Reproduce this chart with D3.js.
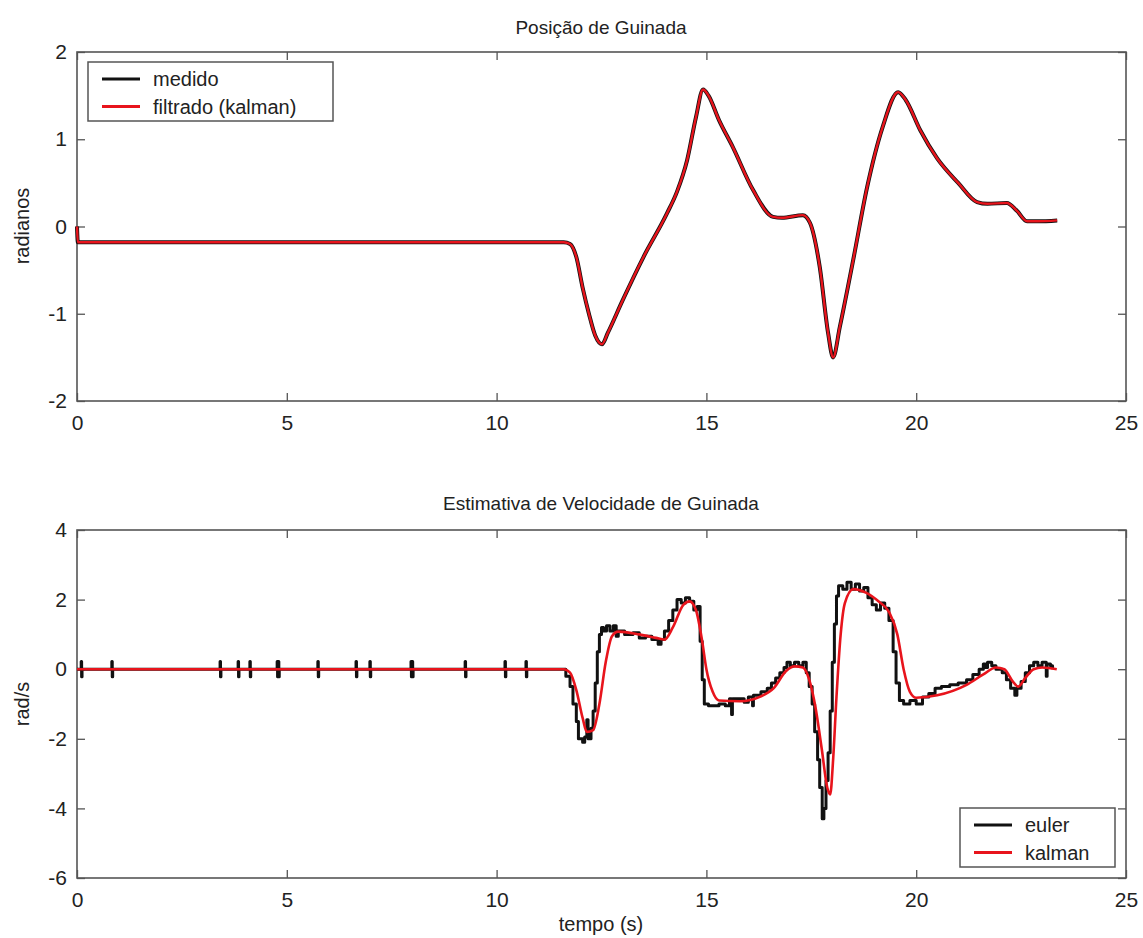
<!DOCTYPE html>
<html>
<head>
<meta charset="utf-8">
<script src="https://cdn.jsdelivr.net/npm/d3@7"></script>
<style>
  body { margin: 0; background: #fff; }
  svg text { font-family: "Liberation Sans", Arial, Helvetica, sans-serif; fill: #222; }
  .axis path { display: none; }
  .axis line { stroke: #555; stroke-width: 1.3; }
  .axis text { font-size: 21px; fill: #222; }
</style>
</head>
<body>
<svg width="1143" height="938"></svg>
<script>
// posição de guinada (rad) - medido / filtrado
const posTime = [0, 0.02, 11.6, 11.75, 11.9, 12.05, 12.2, 12.35, 12.51, 12.65, 13.0, 13.5, 14.06, 14.3, 14.54, 14.75, 14.92, 15.05, 15.3, 15.63, 16.11, 16.59, 16.8, 17.3, 17.47, 17.7, 17.9, 18.02, 18.18, 18.5, 18.83, 19.2, 19.57, 19.75, 20.1, 20.5, 21.0, 21.45, 21.7, 22.16, 22.4, 22.64, 22.9, 23.36];
const medido   = [0, -0.18, -0.18, -0.2, -0.35, -0.7, -1.0, -1.25, -1.35, -1.22, -0.85, -0.35, 0.15, 0.4, 0.76, 1.25, 1.57, 1.5, 1.22, 0.91, 0.42, 0.11, 0.1, 0.13, 0.04, -0.46, -1.22, -1.5, -1.15, -0.38, 0.45, 1.14, 1.54, 1.45, 1.1, 0.78, 0.5, 0.28, 0.26, 0.27, 0.18, 0.06, 0.06, 0.07];
const filtrado = [0, -0.18, -0.18, -0.2, -0.35, -0.7, -1.0, -1.25, -1.35, -1.22, -0.85, -0.35, 0.15, 0.4, 0.76, 1.25, 1.57, 1.5, 1.22, 0.91, 0.42, 0.11, 0.1, 0.13, 0.04, -0.46, -1.22, -1.5, -1.15, -0.38, 0.45, 1.14, 1.54, 1.45, 1.1, 0.78, 0.5, 0.28, 0.26, 0.27, 0.18, 0.06, 0.06, 0.07];

// velocidade de guinada (rad/s) - euler (degraus)
const eulerT = [0, 0.1, 0.11, 0.12, 0.83, 0.84, 0.85, 3.41, 3.42, 3.43, 3.84, 3.85, 3.86, 4.12, 4.13, 4.14, 4.77, 4.78, 4.8, 4.81, 4.82, 5.74, 5.75, 5.76, 6.65, 6.66, 6.67, 6.98, 6.99, 7.0, 7.96, 7.97, 7.99, 8.0, 8.01, 9.25, 9.26, 9.27, 10.2, 10.21, 10.22, 10.7, 10.71, 10.72,
  11.55, 11.65, 11.75, 11.82, 11.9, 11.95, 12.05, 12.1, 12.15, 12.18, 12.25, 12.3, 12.35, 12.4, 12.45, 12.5, 12.55, 12.62, 12.7, 12.78, 12.85, 12.9, 13.05, 13.25, 13.4, 13.55, 13.7, 13.85, 13.92, 14.0, 14.1, 14.2, 14.3, 14.4, 14.5, 14.6, 14.7, 14.78, 14.85, 14.9, 14.95, 15.05, 15.3, 15.45, 15.55, 15.6, 15.62, 15.9, 16.0, 16.1, 16.12, 16.3, 16.45, 16.55, 16.65, 16.75, 16.85, 16.92, 17.0, 17.1, 17.2, 17.3, 17.38, 17.45, 17.52, 17.58, 17.65, 17.7, 17.76, 17.8, 17.85, 17.9, 17.95, 18.0, 18.05, 18.1, 18.15, 18.25, 18.35, 18.45, 18.55, 18.65, 18.75, 18.85, 18.95, 19.05, 19.15, 19.25, 19.35, 19.45, 19.52, 19.6, 19.7, 19.85, 20.0, 20.15, 20.3, 20.45, 20.6, 20.8, 21.0, 21.2, 21.35, 21.5, 21.6, 21.65, 21.7, 21.8, 21.9, 22.05, 22.15, 22.25, 22.35, 22.4, 22.5, 22.6, 22.7, 22.8, 22.9, 23.0, 23.1, 23.12, 23.2, 23.25];
const eulerV = [0, 0.22, -0.22, 0, 0.22, -0.22, 0, 0.22, -0.22, 0, 0.22, -0.22, 0, 0.22, -0.22, 0, 0.22, -0.22, 0.22, -0.22, 0, 0.22, -0.22, 0, 0.22, -0.22, 0, 0.22, -0.22, 0, 0.22, -0.22, 0.22, -0.22, 0, 0.22, -0.22, 0, 0.22, -0.22, 0, 0.22, -0.22, 0,
  0, -0.2, -0.5, -1.0, -1.5, -2.0, -2.1, -1.95, -1.45, -2.0, -1.7, -1.2, -0.4, 0.5, 1.0, 1.2, 1.1, 1.25, 1.1, 1.25, 0.95, 1.1, 1.0, 1.05, 0.9, 0.95, 0.85, 0.72, 0.85, 1.1, 1.4, 1.7, 2.0, 1.9, 2.05, 1.95, 1.7, 1.8, 0.8, -0.3, -1.0, -1.05, -1.0, -1.05, -0.85, -1.3, -0.85, -0.95, -0.8, -1.05, -0.75, -0.65, -0.55, -0.4, -0.25, -0.1, 0.05, 0.2, 0.1, 0.2, 0.1, 0.2, -0.1, -0.5, -1.0, -1.8, -2.6, -3.4, -4.3, -4.0, -3.2, -2.4, -1.2, 0.2, 1.3, 2.1, 2.4, 2.3, 2.5, 2.3, 2.45, 2.25, 2.35, 2.05, 1.85, 1.7, 1.9, 1.75, 1.4, 0.5, -0.4, -0.9, -1.0, -0.9, -1.0, -0.8, -0.7, -0.55, -0.5, -0.45, -0.4, -0.3, -0.15, 0.0, 0.15, 0.05, 0.2, 0.1, 0.0, -0.1, -0.3, -0.55, -0.75, -0.55, -0.35, -0.1, 0.1, 0.2, 0.1, 0.2, -0.2, 0.15, 0.1, 0];

// velocidade de guinada (rad/s) - kalman
const kalmanT = [0, 11.6, 11.75, 11.9, 12.05, 12.15, 12.3, 12.45, 12.6, 12.75, 12.9, 13.4, 13.8, 14.0, 14.2, 14.45, 14.6, 14.75, 14.9, 15.0, 15.15, 15.3, 15.8, 16.3, 16.6, 16.9, 17.1, 17.3, 17.45, 17.6, 17.75, 17.88, 17.95, 18.02, 18.1, 18.2, 18.3, 18.5, 18.8, 19.1, 19.35, 19.55, 19.7, 19.85, 20.0, 20.5, 21.2, 21.6, 21.9, 22.1, 22.3, 22.43, 22.6, 22.8, 23.0, 23.35];
const kalmanV = [0, 0, -0.1, -0.6, -1.4, -1.8, -1.75, -1.0, 0.2, 0.95, 1.08, 1.0, 0.9, 0.85, 1.2, 1.85, 1.95, 1.7, 0.8, 0.0, -0.65, -0.9, -0.92, -0.78, -0.55, -0.05, 0.08, 0.05, -0.3, -1.1, -2.3, -3.4, -3.6, -2.6, -0.8, 1.0, 1.9, 2.3, 2.2, 1.95, 1.65, 1.0, 0.0, -0.65, -0.82, -0.75, -0.45, -0.15, 0.05, 0.0, -0.35, -0.5, -0.25, 0.0, 0.05, 0.0];

const xTicks = [0, 5, 10, 15, 20, 25];
const posTicks = [-2, -1, 0, 1, 2];
const velTicks = [-6, -4, -2, 0, 2, 4];

const svg = d3.select('svg');
const left = 77, right = 1126;
const fmt = d => String(d);

function panel(top, bottom, yDomain, yTicks) {
  const x = d3.scaleLinear().domain([0, 25]).range([left, right]);
  const y = d3.scaleLinear().domain(yDomain).range([bottom, top]);
  const g = svg.append('g');

  g.append('g').attr('class', 'axis').attr('transform', `translate(0,${bottom})`)
    .call(d3.axisBottom(x).tickValues(xTicks).tickSizeInner(-8).tickSizeOuter(0).tickPadding(14).tickFormat(fmt));
  g.append('g').attr('class', 'axis').attr('transform', `translate(0,${top})`)
    .call(d3.axisTop(x).tickValues(xTicks).tickSizeInner(-8).tickSizeOuter(0).tickFormat(''));
  g.append('g').attr('class', 'axis').attr('transform', `translate(${left},0)`)
    .call(d3.axisLeft(y).tickValues(yTicks).tickSizeInner(-8).tickSizeOuter(0).tickPadding(10).tickFormat(fmt));
  g.append('g').attr('class', 'axis').attr('transform', `translate(${right},0)`)
    .call(d3.axisRight(y).tickValues(yTicks).tickSizeInner(-8).tickSizeOuter(0).tickFormat(''));

  g.append('rect').attr('x', left).attr('y', top).attr('width', right - left).attr('height', bottom - top)
    .attr('fill', 'none').attr('stroke', '#555').attr('stroke-width', 1.6);
  return {x, y, g};
}

function drawLine(p, ts, vs, color, width, curve) {
  const line = d3.line().x(i => p.x(ts[i])).y(i => p.y(vs[i])).curve(curve);
  p.g.append('path').datum(d3.range(ts.length)).attr('d', line)
    .attr('fill', 'none').attr('stroke', color).attr('stroke-width', width)
    .attr('stroke-linejoin', 'round');
}

function legend(p, x0, y0, w, h, items) {
  const lg = p.g.append('g');
  lg.append('rect').attr('x', x0).attr('y', y0).attr('width', w).attr('height', h)
    .attr('fill', '#fff').attr('stroke', '#555').attr('stroke-width', 1.5);
  items.forEach((it, i) => {
    const cy = y0 + 17 + i * 27.5;
    lg.append('line').attr('x1', x0 + 14).attr('x2', x0 + 52).attr('y1', cy).attr('y2', cy)
      .attr('stroke', it.color).attr('stroke-width', 3);
    lg.append('text').attr('x', x0 + 65).attr('y', cy + 7).attr('font-size', 20).text(it.label);
  });
}

// painel superior
const p1 = panel(52, 401, [-2, 2], posTicks);
drawLine(p1, posTime, medido, '#111', 4, d3.curveMonotoneX);
drawLine(p1, posTime, filtrado, '#e8141c', 2.4, d3.curveMonotoneX);
legend(p1, 88, 62, 245, 59, [{label: 'medido', color: '#111'}, {label: 'filtrado (kalman)', color: '#e8141c'}]);
svg.append('text').attr('x', 601).attr('y', 34).attr('text-anchor', 'middle').attr('font-size', 19).text('Posição de Guinada');
svg.append('text').attr('transform', 'translate(29,226) rotate(-90)').attr('text-anchor', 'middle').attr('font-size', 20).text('radianos');

// painel inferior
const p2 = panel(530, 878, [-6, 4], velTicks);
drawLine(p2, eulerT, eulerV, '#111', 3, d3.curveStepAfter);
drawLine(p2, kalmanT, kalmanV, '#e8141c', 2.6, d3.curveMonotoneX);
legend(p2, 960, 808, 155, 59, [{label: 'euler', color: '#111'}, {label: 'kalman', color: '#e8141c'}]);
svg.append('text').attr('x', 601).attr('y', 510).attr('text-anchor', 'middle').attr('font-size', 19).text('Estimativa de Velocidade de Guinada');
svg.append('text').attr('transform', 'translate(29,704) rotate(-90)').attr('text-anchor', 'middle').attr('font-size', 20).text('rad/s');
svg.append('text').attr('x', 601).attr('y', 931).attr('text-anchor', 'middle').attr('font-size', 20).text('tempo (s)');
</script>
</body>
</html>
